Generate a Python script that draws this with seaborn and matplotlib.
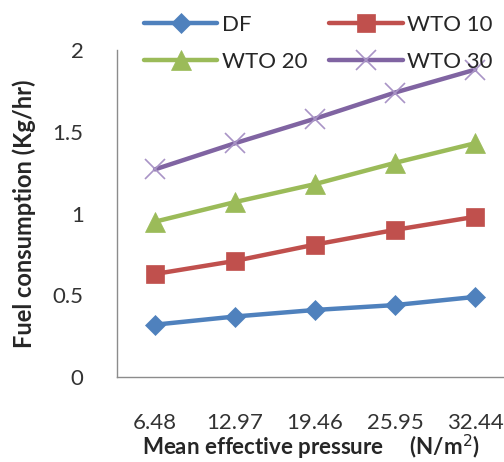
import matplotlib
matplotlib.use("Agg")
import matplotlib.pyplot as plt
import seaborn as sns
import pandas as pd

categories = ["6.48", "12.97", "19.46", "25.95", "32.44"]
df_vals = [0.32, 0.37, 0.41, 0.44, 0.49]
wto10_vals = [0.63, 0.71, 0.81, 0.90, 0.98]
wto20_vals = [0.95, 1.07, 1.18, 1.31, 1.43]
wto30_vals = [1.27, 1.43, 1.58, 1.74, 1.88]
series_names = ["DF", "WTO 10", "WTO 20", "WTO 30"]
y_ticks = [0, 0.5, 1, 1.5, 2]
y_tick_labels = ["0", "0.5", "1", "1.5", "2"]

rows = []
for name, vals in zip(series_names, [df_vals, wto10_vals, wto20_vals, wto30_vals]):
    for c, v in zip(categories, vals):
        rows.append({"x": c, "y": v, "series": name})
data = pd.DataFrame(rows)

sns.set_theme(style="white")
plt.rcParams['font.family'] = ['Lato', 'DejaVu Sans']

colors = {"DF": "#4F81BD", "WTO 10": "#C0504D", "WTO 20": "#9BBB59", "WTO 30": "#8064A2"}
markers = {"DF": "D", "WTO 10": "s", "WTO 20": "^", "WTO 30": "x"}
msizes = {"DF": 10, "WTO 10": 13, "WTO 20": 14, "WTO 30": 14}

fig = plt.figure(figsize=(5.04, 4.62), dpi=100)
ax = fig.add_axes([117/504, 1-377/462, 1-117/504, (377-50)/462])

for name in series_names:
    sub = data[data.series == name]
    sns.lineplot(data=sub, x="x", y="y", ax=ax, color=colors[name], lw=3.2,
                 marker=markers[name], markersize=msizes[name],
                 markeredgecolor=colors[name] if name != "WTO 30" else "#A994C6",
                 markeredgewidth=1.2 if name == "WTO 30" else 0.5,
                 label=name, sort=False)

ax.set_ylim(0, 2)
ax.set_xlim(-0.475, 4.36)
ax.set_yticks(y_ticks)
ax.set_yticklabels(y_tick_labels)
ax.tick_params(axis='y', length=0, pad=24, labelsize=16, colors="#333333")
ax.tick_params(axis='x', length=0, pad=26, labelsize=16, colors="#333333")
for s in ["top", "right"]:
    ax.spines[s].set_visible(False)
for s in ["left", "bottom"]:
    ax.spines[s].set_color("#8C8C8C")
    ax.spines[s].set_linewidth(1.0)

ax.set_xlabel("Mean effective pressure     (N/m$^{2}$)", fontsize=16, fontweight="bold", labelpad=0)
ax.set_ylabel("Fuel consumption (Kg/hr)", fontsize=17, fontweight="bold", labelpad=12)

handles, labels = ax.get_legend_handles_labels()
order = [0, 2, 1, 3]
leg = ax.legend([handles[i] for i in order], [labels[i] for i in order],
                loc="upper left", bbox_to_anchor=(135/504, 1-6/462), bbox_transform=fig.transFigure,
                ncol=2, frameon=False, fontsize=16, handlelength=3.3, handletextpad=0.2,
                columnspacing=1.0, labelspacing=0.75, borderaxespad=0)

fig.savefig("out.png", dpi=100)
